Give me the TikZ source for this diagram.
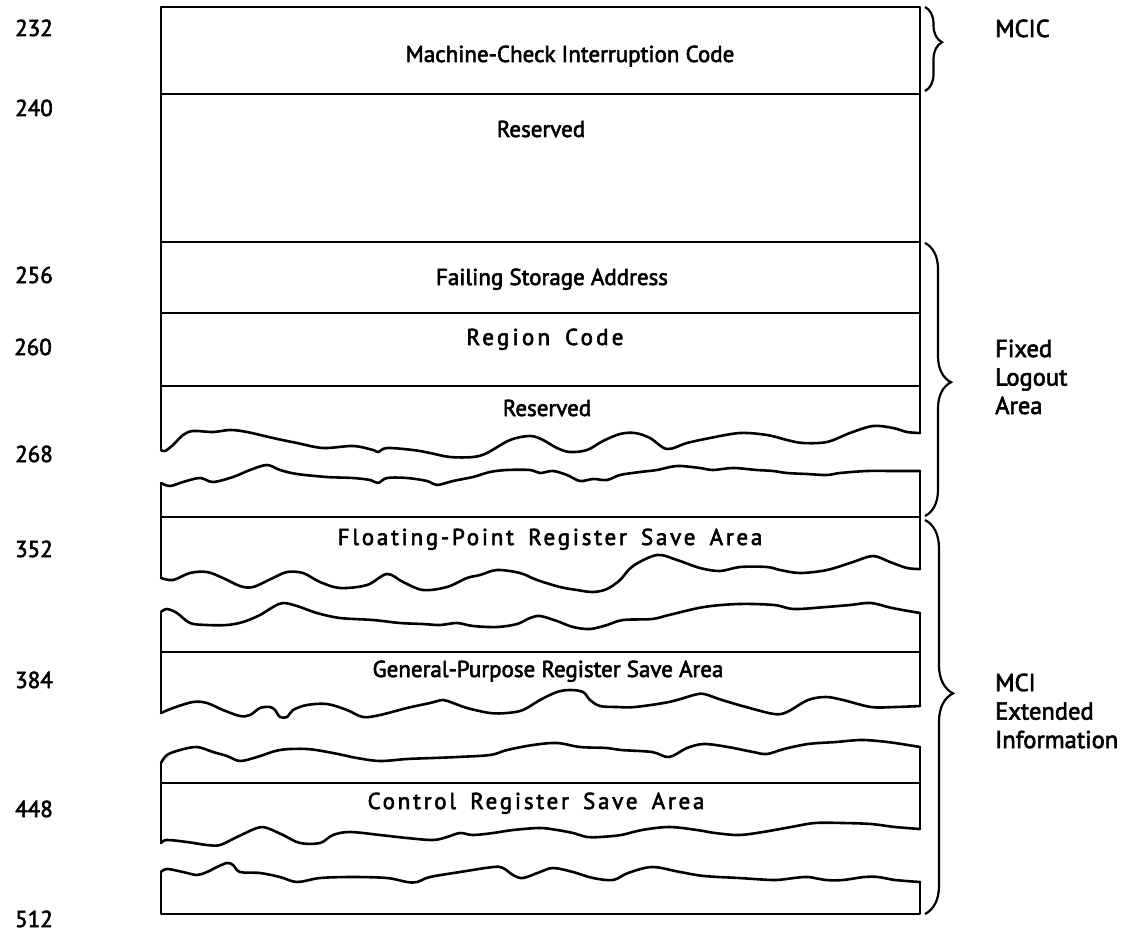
\documentclass[tikz,border=0pt]{standalone}
\usepackage{fontspec}
\newfontfamily\basefont[FakeBold=2.5]{PT Sans}
\newfontfamily\spacedfont[LetterSpace=12,WordSpace=1.6,FakeBold=2.5]{PT Sans}
\newfontfamily\widefont[LetterSpace=14,WordSpace=1.6,FakeBold=2.5]{PT Sans}
\usetikzlibrary{decorations.pathreplacing}
\begin{document}
\begin{tikzpicture}[x=1pt,y=-1pt,
  frame/.style={line width=2.3pt, line join=round, line cap=round},
  wavy/.style={line width=2.6pt, line join=round, line cap=round},
  divider/.style={line width=1.8pt},
  lbl/.style={font=\basefont\fontsize{23}{28}\selectfont, inner sep=0pt},
  addr/.style={lbl, anchor=base west},
  field/.style={lbl, anchor=base},
  side/.style={font=\basefont\fontsize{24.5}{28.5}\selectfont, inner sep=0pt, align=left, anchor=west},
  bracestyle/.style={line width=2.2pt, decorate}
]
\useasboundingbox (0,0) rectangle (1142,933);

% ---------- frame pieces ----------
\coordinate (TL) at (161,7);
\coordinate (TR) at (920,7);
\draw[frame] (161,450) -- (TL) -- (TR) -- (920,433);
\draw[frame] (161,483) -- (161,578);
\draw[frame] (920,471) -- (920,569);
\draw[frame] (161,612) -- (161,713);
\draw[frame] (920,613) -- (920,706);
\draw[frame] (161,763) -- (161,843);
\draw[frame] (920,747) -- (920,829);
\draw[frame] (161,872) -- (161,914) -- (920,914) -- (920,882);

% ---------- dividers ----------
\foreach \yy in {94,242,313,386,517,652,783}
  \draw[divider] (161,\yy) -- (920,\yy);

% ---------- wavy break lines ----------
\draw[wavy] plot[smooth, tension=0.55] coordinates {(161,450) (165,451) (173,445) (183,435) (193,431) (213,432) (230,430) (247,432) (273,438) (297,443) (323,448) (353,446) (373,450) (378,452) (387,448) (413,450) (430,453) (450,457) (473,457) (487,453) (510,440) (530,436) (543,440) (557,448) (570,452) (587,450) (603,441) (620,434) (635,433) (650,438) (667,449) (687,443) (710,438) (740,433) (767,435) (787,440) (803,443) (827,442) (850,433) (873,426) (893,428) (907,432) (920,433)};
\draw[wavy] plot[smooth, tension=0.55] coordinates {(161,483) (170,486) (183,482) (200,478) (213,482) (233,477) (250,470) (267,465) (280,470) (297,474) (327,477) (353,478) (370,480) (378,483) (387,478) (407,478) (427,481) (437,485) (453,481) (473,477) (490,472) (507,470) (530,470) (540,473) (553,471) (567,475) (580,481) (593,479) (607,480) (620,475) (640,472) (657,470) (677,466) (700,468) (713,470) (733,468) (757,470) (773,471) (787,473) (807,474) (827,475) (840,473) (867,471) (893,471) (920,471)};
\draw[wavy] plot[smooth, tension=0.55] coordinates {(161,578) (173,580) (190,573) (207,572) (223,578) (240,586) (253,587) (273,578) (287,572) (303,573) (320,582) (340,588) (367,585) (387,574) (403,582) (423,590) (447,587) (467,578) (480,575) (497,570) (520,573) (537,580) (560,587) (577,590) (593,592) (607,589) (620,580) (633,566) (657,555) (677,560) (700,568) (720,571) (740,567) (767,567) (780,570) (800,573) (827,570) (853,562) (873,556) (890,562) (907,568) (920,569)};
\draw[wavy] plot[smooth, tension=0.55] coordinates {(161,612) (167,609) (177,613) (190,623) (207,625) (227,625) (243,622) (260,615) (273,607) (283,603) (297,606) (317,613) (340,618) (373,620) (400,623) (423,624) (440,625) (457,623) (473,626) (497,627) (517,624) (530,618) (540,616) (557,621) (573,627) (590,629) (607,625) (623,620) (652,619) (669,615) (704,607) (739,604) (774,605) (794,609) (826,607) (850,605) (871,603) (892,608) (920,613)};
\draw[wavy] plot[smooth, tension=0.55] coordinates {(161,713) (173,708) (193,702) (207,703) (223,710) (240,716) (250,715) (260,708) (270,707) (275,710) (280,717) (287,717) (293,710) (307,705) (327,704) (347,710) (363,717) (380,715) (407,708) (430,703) (443,700) (453,703) (467,708) (490,713) (507,713) (523,710) (540,700) (557,692) (570,690) (583,692) (590,700) (600,706) (617,707) (635,707) (669,702) (694,695) (704,694) (722,700) (746,707) (774,714) (787,712) (808,700) (826,697) (843,700) (871,707) (895,707) (920,706)};
\draw[wavy] plot[smooth, tension=0.55] coordinates {(161,763) (167,755) (180,750) (197,747) (213,752) (227,756) (240,761) (257,757) (280,750) (307,749) (333,753) (357,758) (380,761) (407,759) (433,758) (457,757) (490,755) (507,750) (533,745) (557,743) (580,747) (607,748) (621,750) (652,752) (669,757) (687,748) (704,744) (728,747) (753,752) (767,754) (784,749) (808,744) (836,742) (860,740) (878,741) (895,743) (920,747)};
\draw[wavy] plot[smooth, tension=0.55] coordinates {(161,843) (167,840) (187,842) (207,845) (220,845) (237,837) (257,828) (267,828) (283,835) (300,843) (320,843) (333,835) (350,832) (380,835) (407,838) (433,840) (447,837) (460,833) (473,835) (493,833) (513,830) (540,828) (557,830) (573,833) (587,837) (600,837) (621,835) (642,830) (669,827) (697,830) (715,833) (739,835) (763,832) (791,827) (815,823) (843,823) (871,824) (895,827) (920,829)};
\draw[wavy] plot[smooth, tension=0.55] coordinates {(161,872) (167,869) (183,872) (197,875) (207,872) (217,867) (227,863) (233,865) (240,872) (260,873) (280,877) (297,882) (320,878) (353,877) (387,878) (407,882) (417,882) (430,877) (460,872) (493,867) (503,868) (513,875) (523,878) (540,872) (553,868) (573,872) (593,878) (613,880) (628,873) (652,867) (680,872) (704,876) (739,878) (774,880) (794,878) (808,877) (826,880) (843,880) (864,877) (878,877) (895,880) (920,882)};

% ---------- field texts ----------
\node[field] (mcic) at (570,62) {Machine-Check Interruption Code};
\node[field] (res1) at (541,137) {Reserved};
\node[field] (fsa) at (552,285) {Failing Storage Address};
\node[field] (rc) at (545,345) {\widefont Region Code};
\node[field] (res2) at (547,416) {Reserved};
\node[field] (fpr) at (550,545) {\spacedfont Floating-Point Register Save Area};
\node[field] (gpr) at (548,677) {General-Purpose Register Save Area};
\node[field] (cr) at (536,809) {\spacedfont Control Register Save Area};

% ---------- addresses ----------
\node[addr] (a232) at (15,36) {232};
\node[addr] (a240) at (15,116) {240};
\node[addr] (a256) at (15,283) {256};
\node[addr] (a260) at (14,355) {260};
\node[addr] (a268) at (15,462) {268};
\node[addr] (a352) at (15,557) {352};
\node[addr] (a384) at (15,688) {384};
\node[addr] (a448) at (15,817) {448};
\node[addr] (a512) at (15,927) {512};

% ---------- braces ----------
\coordinate (b1s) at (925,7);
\coordinate (b1e) at (925,91);
\coordinate (b2s) at (925,243);
\coordinate (b2e) at (925,516);
\coordinate (b3s) at (925,520);
\coordinate (b3e) at (925,914);
\draw[bracestyle, decoration={brace, amplitude=17pt, aspect=0.42}] (b1s) -- (b1e);
\draw[bracestyle, decoration={brace, amplitude=26pt, aspect=0.51}] (b2s) -- (b2e);
\draw[bracestyle, decoration={brace, amplitude=28pt, aspect=0.44}] (b3s) -- (b3e);

% ---------- side labels ----------
\node[side, anchor=base west] (lmcic) at (995,37) {MCIC};
\node[side] (lfix) at (995,377) {Fixed\\Logout\\Area};
\node[side] (lmci) at (995,711) {MCI\\Extended\\Information};
\end{tikzpicture}
\end{document}
